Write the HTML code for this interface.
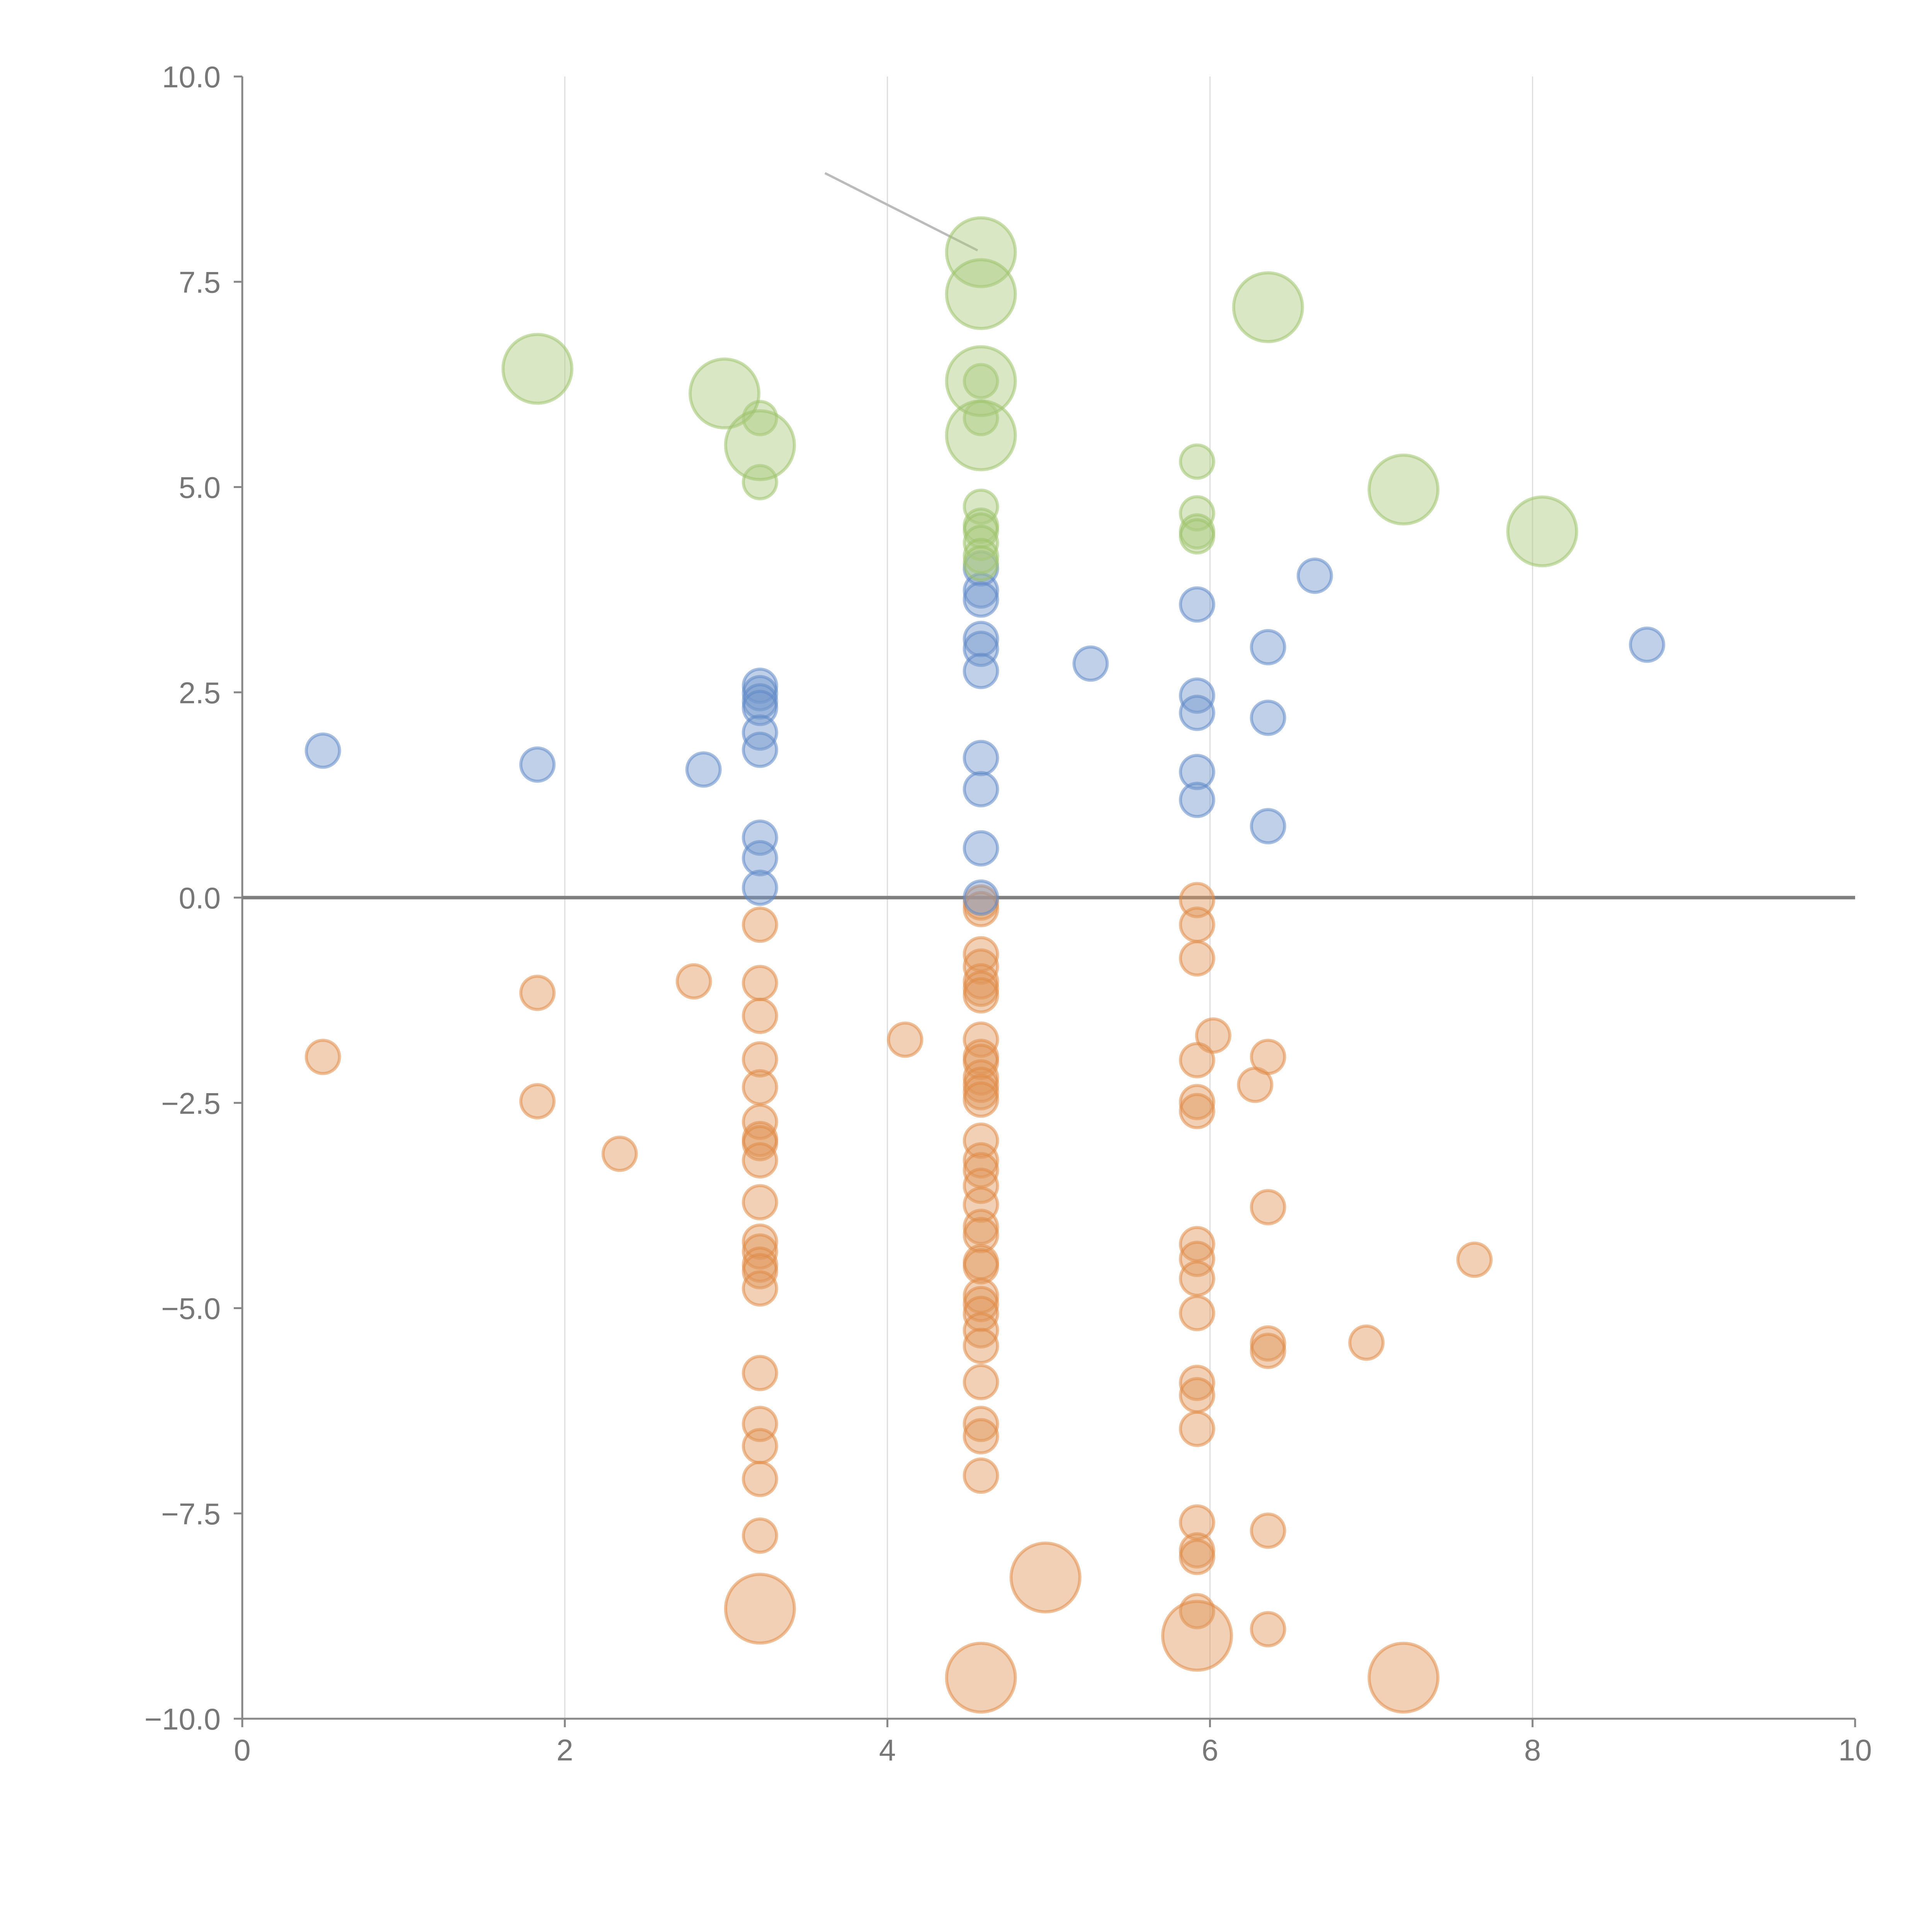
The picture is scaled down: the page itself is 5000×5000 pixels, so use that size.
<!DOCTYPE html>
<html><head><meta charset="utf-8"><style>html,body{margin:0;padding:0;background:#fff}svg{display:block}</style></head>
<body>
<svg id="chart" width="5000" height="5000" viewBox="0 0 5000 5000" xmlns="http://www.w3.org/2000/svg" font-family="'Liberation Sans', sans-serif">
<g id="grid"></g>
<g id="axes"></g>
<line x1="2135" y1="448" x2="2530" y2="648" stroke="#bbb" stroke-width="6"/>
<g id="marks"></g>
</svg>
<script>
const xTicks=[0,2,4,6,8,10];
const yTicks=[-10,-7.5,-5,-2.5,0,2.5,5,7.5,10];
const blueX=[0.50,1.83,2.86,3.21,3.21,3.21,3.21,3.21,3.21,3.21,3.21,3.21,4.58,4.58,4.58,4.58,4.58,4.58,4.58,4.58,4.58,4.58,5.26,5.92,5.92,5.92,5.92,5.92,6.36,6.36,6.36,6.65,8.71];
const blueY=[1.79,1.62,1.56,2.58,2.49,2.39,2.31,2.01,1.80,0.73,0.48,0.12,4.01,3.74,3.63,3.15,3.03,2.76,1.70,1.32,0.60,0.00,2.85,3.57,2.46,2.25,1.53,1.19,3.05,2.19,0.87,3.92,3.08];
const greenX=[3.21,3.21,4.58,4.58,4.58,4.58,4.58,4.58,4.58,4.58,5.92,5.92,5.92,5.92,1.83,2.99,3.21,4.58,4.58,4.58,4.58,6.36,7.20,8.06];
const greenY=[5.84,5.06,4.76,4.53,4.47,4.32,4.16,4.07,6.29,5.84,5.31,4.68,4.46,4.40,6.44,6.14,5.51,7.86,7.35,6.29,5.63,7.19,4.97,4.46];
const greenSize=[1,1,1,1,1,1,1,1,1,1,1,1,1,1,2,2,2,2,2,2,2,2,2,2];
const orangeX=[0.50,1.83,1.83,2.34,2.80,3.21,3.21,3.21,3.21,3.21,3.21,3.21,3.21,3.21,3.21,3.21,3.21,3.21,3.21,3.21,3.21,3.21,3.21,3.21,3.21,4.11,4.58,4.58,4.58,4.58,4.58,4.58,4.58,4.58,4.58,4.58,4.58,4.58,4.58,4.58,4.58,4.58,4.58,4.58,4.58,4.58,4.58,4.58,4.58,4.58,4.58,4.58,4.58,4.58,4.58,4.58,4.58,4.58,5.92,5.92,5.92,6.02,5.92,5.92,5.92,5.92,5.92,5.92,5.92,5.92,5.92,5.92,5.92,5.92,5.92,5.92,6.28,6.36,6.36,6.36,6.36,6.36,6.36,6.97,7.64,3.21,4.98,4.58,5.92,7.20];
const orangeY=[-1.94,-1.16,-2.48,-3.12,-1.02,-0.33,-1.04,-1.44,-1.97,-2.31,-2.73,-2.94,-2.99,-3.20,-3.71,-4.19,-4.31,-4.47,-4.55,-4.76,-5.79,-6.41,-6.68,-7.08,-7.77,-1.73,-0.06,-0.14,-0.69,-0.84,-1.02,-1.11,-1.19,-1.73,-1.94,-2.00,-2.19,-2.28,-2.37,-2.46,-2.96,-3.20,-3.32,-3.51,-3.74,-4.01,-4.11,-4.44,-4.49,-4.85,-4.95,-5.07,-5.27,-5.46,-5.90,-6.41,-6.56,-7.04,-0.03,-0.33,-0.74,-1.68,-1.98,-2.49,-2.60,-4.22,-4.40,-4.64,-5.06,-5.91,-6.06,-6.47,-7.61,-7.95,-8.03,-8.69,-2.28,-1.94,-3.77,-5.43,-5.52,-7.71,-8.91,-5.42,-4.41,-8.66,-8.28,-9.50,-8.99,-9.50];
const orangeSize=orangeX.map((_,i)=>i>=orangeX.length-5?2:1);
const NS='http://www.w3.org/2000/svg';
const X0=627,X1=4801,Y0=4448,Y1=198;
const sx=v=>X0+(v-0)/(10-0)*(X1-X0);
const sy=v=>Y0-(v+10)/20*(Y0-Y1);
const sr=s=>s===2?89:43;
function mk(t,a,p){const e=document.createElementNS(NS,t);for(const k in a)e.setAttribute(k,a[k]);p.appendChild(e);return e;}
const grid=document.getElementById('grid'),axes=document.getElementById('axes'),marks=document.getElementById('marks');
xTicks.forEach(t=>{
  if(t>0&&t<10){const l=mk('line',{x1:sx(t),x2:sx(t),y1:Y1,y2:Y0,stroke:'#ddd','stroke-width':3},grid);
  
  }
  const tk=mk('line',{x1:sx(t),x2:sx(t),y1:Y0,y2:Y0+22,stroke:'#888','stroke-width':5},axes);
  
  
  const tx=mk('text',{x:sx(t),y:Y0+108,'text-anchor':'middle','font-size':78,fill:'#777'},axes);
  tx.textContent=t;
  
  
});
yTicks.forEach(t=>{
  const tk=mk('line',{x1:X0-22,x2:X0,y1:sy(t),y2:sy(t),stroke:'#888','stroke-width':5},axes);
  
  
  const tx=mk('text',{x:X0-56,y:sy(t)+28,'text-anchor':'end','font-size':78,fill:'#777'},axes);
  tx.textContent=(t<0?'\u2212':'')+Math.abs(t).toFixed(1);
  
  
});
const ya=mk('line',{x1:X0,x2:X0,y1:Y1,y2:Y0,stroke:'#888','stroke-width':5},axes);


const xa=mk('line',{x1:X0,x2:X1,y1:Y0,y2:Y0,stroke:'#888','stroke-width':5},axes);


const zl=mk('line',{x1:X0,x2:X1,y1:sy(0),y2:sy(0),stroke:'#7f7f7f','stroke-width':9},axes);


function series(xs,ys,ss,fill,stroke,name){
  xs.forEach((x,i)=>{
    const c=mk('circle',{cx:sx(x),cy:sy(ys[i]),r:sr(ss?ss[i]:1),fill:fill,'fill-opacity':0.45,stroke:stroke,'stroke-opacity':0.55,'stroke-width':8},marks);
    
    
  });
}
series(orangeX,orangeY,orangeSize,'#e0965a','#e08a45','orange-bubble');
series(blueX,blueY,null,'#7397cc','#5f89c6','blue-bubble');
series(greenX,greenY,greenSize,'#aac97e','#9dc36a','green-bubble');
</script>
</body></html>
